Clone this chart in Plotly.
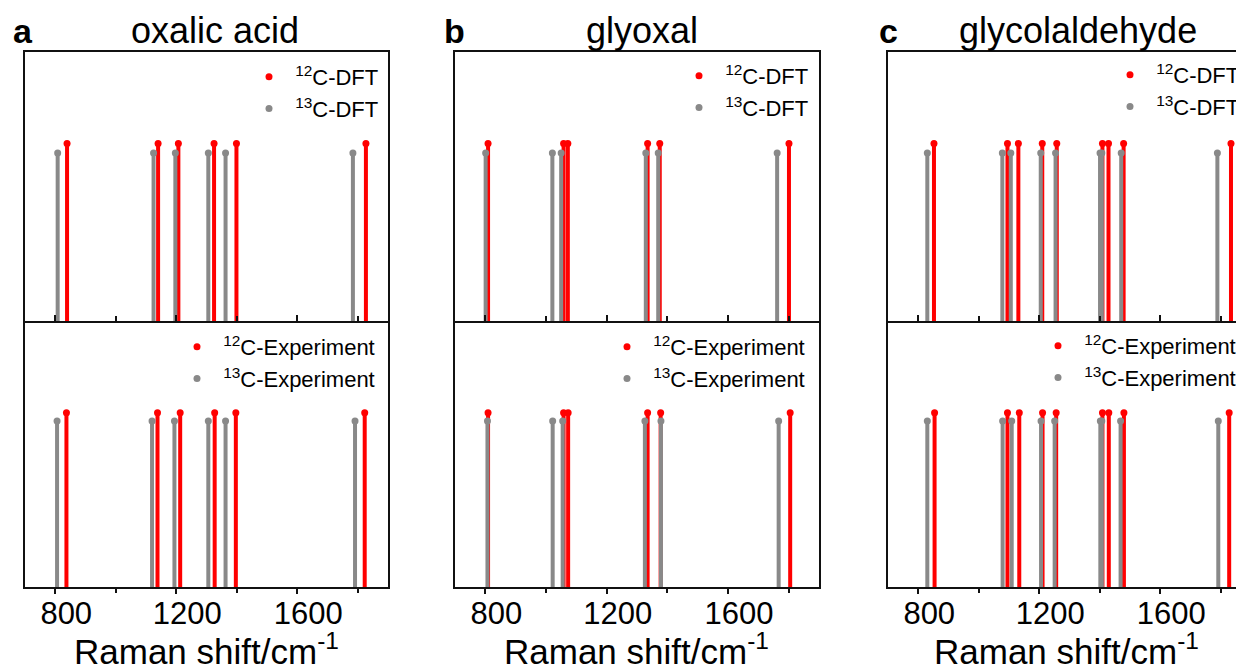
import plotly.graph_objects as go

W, H = 1244, 670
OFF = 8  # page body margin of the browser
FW, FH = W - OFF, H - OFF
FONT = "Liberation Sans, Arial, sans-serif"
RED = "#FF0000"
GRAY = "#898989"
FRAME = "#111111"

# ---------------- data (Raman shift in cm-1, relative intensity) ----------------
panel_titles = ["oxalic acid", "glyoxal", "glycolaldehyde"]
panel_letters = ["a", "b", "c"]
x_ticks = [800, 1200, 1600]
x_minor_ticks = [1000, 1400, 1800]

oxalic_12c_dft = [839, 1140, 1207, 1325, 1399, 1827]
oxalic_12c_dft_int = [0.66, 0.66, 0.66, 0.66, 0.66, 0.66]
oxalic_13c_dft = [808, 1125, 1197, 1306, 1363, 1784]
oxalic_13c_dft_int = [0.625, 0.625, 0.625, 0.625, 0.625, 0.625]
oxalic_12c_exp = [837, 1138, 1213, 1327, 1397, 1823]
oxalic_12c_exp_int = [0.655, 0.655, 0.655, 0.655, 0.655, 0.655]
oxalic_13c_exp = [806, 1120, 1194, 1306, 1363, 1791]
oxalic_13c_exp_int = [0.624, 0.624, 0.624, 0.624, 0.624, 0.624]

glyoxal_12c_dft = [809, 1058, 1072, 1335, 1375, 1801]
glyoxal_12c_dft_int = [0.66, 0.66, 0.66, 0.66, 0.66, 0.66]
glyoxal_13c_dft = [801, 1021, 1050, 1329, 1370, 1762]
glyoxal_13c_dft_int = [0.625, 0.625, 0.625, 0.625, 0.625, 0.625]
glyoxal_12c_exp = [809, 1058, 1073, 1335, 1378, 1805]
glyoxal_12c_exp_int = [0.655, 0.655, 0.655, 0.655, 0.655, 0.655]
glyoxal_13c_exp = [807, 1022, 1055, 1326, 1379, 1767]
glyoxal_13c_exp_int = [0.624, 0.624, 0.624, 0.624, 0.624, 0.624]

glycol_12c_dft = [852, 1095, 1131, 1210, 1258, 1409, 1429, 1479, 1834]
glycol_12c_dft_int = [0.66, 0.66, 0.66, 0.66, 0.66, 0.66, 0.66, 0.66, 0.66]
glycol_13c_dft = [830, 1078, 1106, 1205, 1254, 1401, 1407, 1471, 1789]
glycol_13c_dft_int = [0.625, 0.625, 0.625, 0.625, 0.625, 0.625, 0.625, 0.625, 0.625]
glycol_12c_exp = [854, 1095, 1134, 1211, 1256, 1409, 1430, 1480, 1828]
glycol_12c_exp_int = [0.655, 0.655, 0.655, 0.655, 0.655, 0.655, 0.655, 0.655, 0.655]
glycol_13c_exp = [830, 1079, 1109, 1206, 1251, 1402, 1407, 1469, 1792]
glycol_13c_exp_int = [0.624, 0.624, 0.624, 0.624, 0.624, 0.624, 0.624, 0.624, 0.624]

x_ranges = [[700, 1900], [700, 1900], [700, 1877]]

# ---------------- layout geometry (window pixels) ----------------
col_px = [(25, 388), (455, 819), (888, 1244)]
top_px, mid_px, bot_px = 52, 321, 587


def px_x(p):
    return (p - OFF) / FW


def px_y(p):
    return 1 - (p - OFF) / FH


def sticks(xs, ys):
    lx, ly = [], []
    for x, y in zip(xs, ys):
        lx += [x, x, None]
        ly += [0, y, None]
    return lx, ly


subplots = [
    (0, 0, oxalic_12c_dft, oxalic_12c_dft_int, oxalic_13c_dft, oxalic_13c_dft_int, "DFT", (269, 77)),
    (0, 1, oxalic_12c_exp, oxalic_12c_exp_int, oxalic_13c_exp, oxalic_13c_exp_int, "Experiment", (197, 347)),
    (1, 0, glyoxal_12c_dft, glyoxal_12c_dft_int, glyoxal_13c_dft, glyoxal_13c_dft_int, "DFT", (699, 76)),
    (1, 1, glyoxal_12c_exp, glyoxal_12c_exp_int, glyoxal_13c_exp, glyoxal_13c_exp_int, "Experiment", (627, 347)),
    (2, 0, glycol_12c_dft, glycol_12c_dft_int, glycol_13c_dft, glycol_13c_dft_int, "DFT", (1130, 75)),
    (2, 1, glycol_12c_exp, glycol_12c_exp_int, glycol_13c_exp, glycol_13c_exp_int, "Experiment", (1058, 346)),
]

fig = go.Figure()
layout_axes = {}
legends = {}

for i, (col, row, rx, ry, gx, gy, kind, dot) in enumerate(subplots):
    n = i + 1
    xa = "x" if n == 1 else f"x{n}"
    ya = "y" if n == 1 else f"y{n}"
    lg = "legend" if n == 1 else f"legend{n}"

    lx, ly = sticks(rx, ry)
    fig.add_trace(go.Scatter(x=lx, y=ly, mode="lines", line=dict(color=RED, width=4),
                             xaxis=xa, yaxis=ya, showlegend=False, hoverinfo="skip"))
    lx, ly = sticks(gx, gy)
    fig.add_trace(go.Scatter(x=lx, y=ly, mode="lines", line=dict(color=GRAY, width=4),
                             xaxis=xa, yaxis=ya, showlegend=False, hoverinfo="skip"))
    fig.add_trace(go.Scatter(x=rx, y=ry, mode="markers", marker=dict(color=RED, size=7),
                             name=f"&nbsp;<sup>12</sup>C-{kind}", xaxis=xa, yaxis=ya,
                             legend=lg, showlegend=True))
    fig.add_trace(go.Scatter(x=gx, y=gy, mode="markers", marker=dict(color=GRAY, size=7),
                             name=f"&nbsp;<sup>13</sup>C-{kind}", xaxis=xa, yaxis=ya,
                             legend=lg, showlegend=True))

    x0, x1 = col_px[col]
    if row == 0:
        ydom = [px_y(mid_px), px_y(top_px)]
    else:
        ydom = [px_y(bot_px), px_y(mid_px)]

    xkey = "xaxis" if n == 1 else f"xaxis{n}"
    ykey = "yaxis" if n == 1 else f"yaxis{n}"
    xaxis = dict(
        domain=[px_x(x0), min(1.0, px_x(x1))], range=x_ranges[col], anchor=ya,
        showline=True, linewidth=1.6, linecolor=FRAME, mirror=(row == 0),
        showgrid=False, zeroline=False, tickmode="array", tickvals=x_ticks,
        ticktext=[str(v) for v in x_ticks],
        tickcolor=FRAME, tickwidth=1.5, automargin=False,
        minor=dict(tickmode="array", tickvals=x_minor_ticks, tickcolor=FRAME,
                   tickwidth=1.5),
    )
    if row == 0:
        xaxis.update(ticks="inside", ticklen=6, showticklabels=False)
        xaxis["minor"].update(ticks="inside", ticklen=5)
    else:
        xaxis.update(ticks="outside", ticklen=5, showticklabels=True,
                     tickfont=dict(family=FONT, size=31, color="#000"),
                     ticklabelshift=11, ticklabelstandoff=-7)
        xaxis["minor"].update(ticks="outside", ticklen=4)
    layout_axes[xkey] = xaxis
    layout_axes[ykey] = dict(
        domain=ydom, range=[0, 1], anchor=xa, showline=True, linewidth=1.6,
        linecolor=FRAME, mirror=(col != 2), showgrid=False, zeroline=False,
        showticklabels=False, ticks="", automargin=False,
    )

    lx0 = dot[0] - 20
    ly0 = dot[1] - 21
    legends[lg] = dict(
        x=px_x(lx0), y=px_y(ly0), xanchor="left", yanchor="top",
        xref="paper", yref="paper", bgcolor="rgba(0,0,0,0)", borderwidth=0,
        font=dict(family=FONT, size=22, color="#000"),
    )

annotations = []
title_cx = [215, 642, 1078]
letter_x = [11, 442, 877]
for col in range(3):
    annotations.append(dict(text=panel_titles[col], x=px_x(title_cx[col]), y=px_y(30),
                            xref="paper", yref="paper", showarrow=False,
                            xanchor="center", yanchor="middle",
                            font=dict(family=FONT, size=36, color="#000")))
    annotations.append(dict(text=f"<b>{panel_letters[col]}</b>", x=px_x(letter_x[col]),
                            y=px_y(31), xref="paper", yref="paper", showarrow=False,
                            xanchor="left", yanchor="middle",
                            font=dict(family=FONT, size=34, color="#000")))
    cx = (col_px[col][0] + min(col_px[col][1], col_px[col][0] + 363)) / 2
    annotations.append(dict(text="Raman shift/cm<sup>-1</sup>", x=px_x(cx), y=px_y(649),
                            xref="paper", yref="paper", showarrow=False,
                            xanchor="center", yanchor="middle",
                            font=dict(family=FONT, size=35, color="#000")))

fig.update_layout(
    width=FW, height=FH,
    margin=dict(l=0, r=0, t=0, b=0, autoexpand=False),
    paper_bgcolor="white", plot_bgcolor="white",
    font=dict(family=FONT, color="#000"),
    annotations=annotations,
    **layout_axes, **legends,
)

fig.write_html("out.html")
